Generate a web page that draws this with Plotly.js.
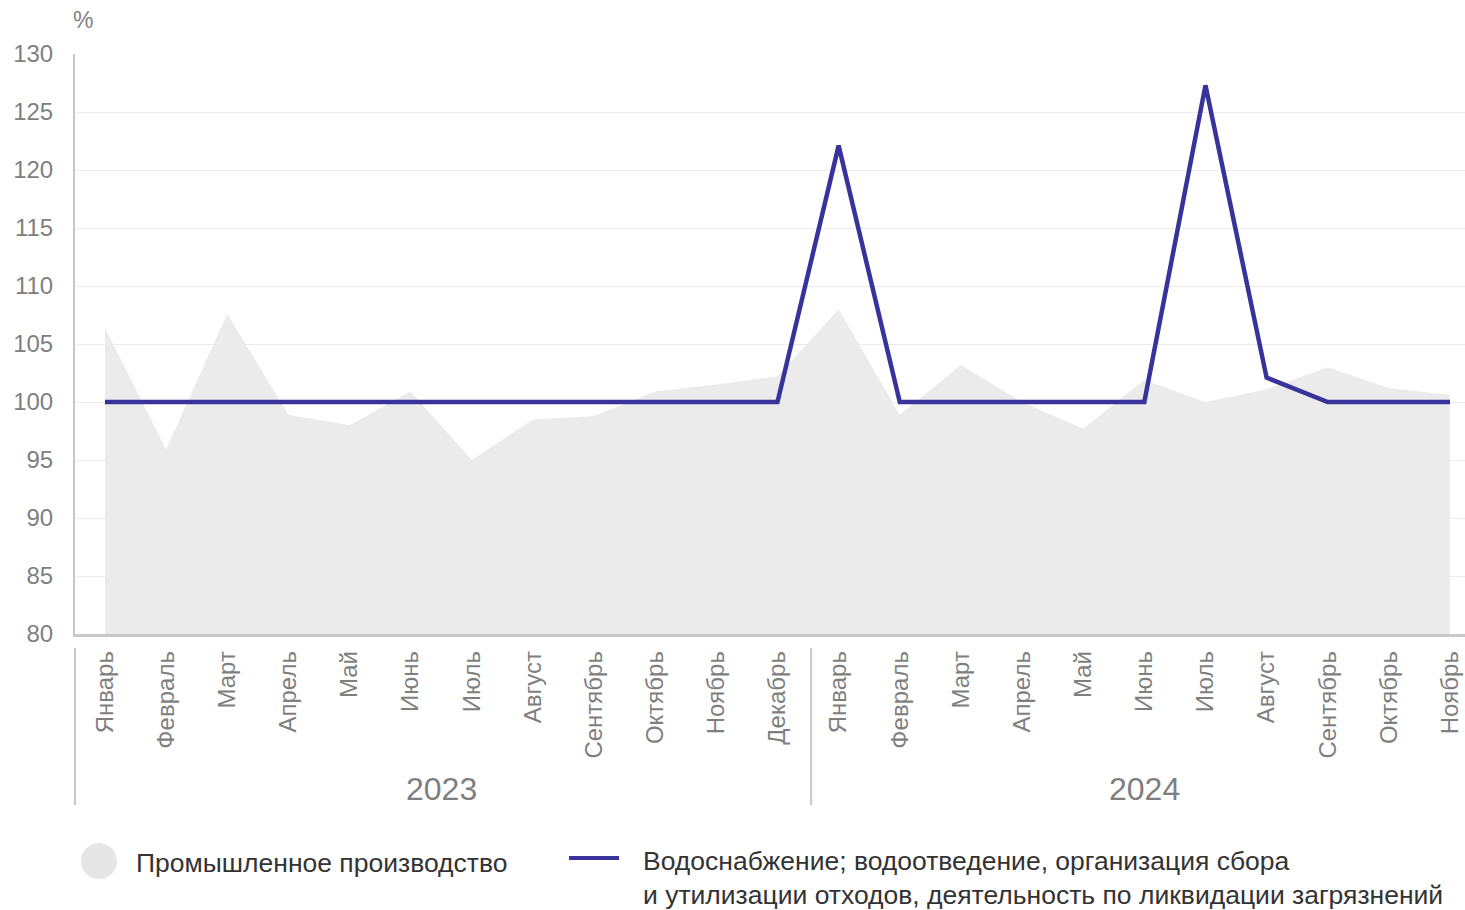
<!DOCTYPE html>
<html>
<head>
<meta charset="utf-8">
<script src="https://cdn.plot.ly/plotly-3.0.1.min.js"></script>
<style>html,body{margin:0;padding:0;background:#fff;}#chart{width:1465px;height:910px;}</style>
</head>
<body>
<div id="chart"></div>
<script>
const months = ["Январь","Февраль","Март","Апрель","Май","Июнь","Июль","Август","Сентябрь","Октябрь","Ноябрь","Декабрь",
                "Январь","Февраль","Март","Апрель","Май","Июнь","Июль","Август","Сентябрь","Октябрь","Ноябрь"];
const years = ["2023","2024"];
const yearOfPoint = [
  "2023","2023","2023","2023","2023","2023","2023","2023","2023","2023","2023","2023",
  "2024","2024","2024","2024","2024","2024","2024","2024","2024","2024","2024"];
const industry = [106.4, 95.9, 107.6, 98.9, 98.0, 100.9, 95.0, 98.5, 98.8, 100.9, 101.5, 102.2,
                  108.0, 98.9, 103.2, 100.0, 97.7, 101.9, 100.0, 101.1, 103.0, 101.2, 100.6];
const water = [100, 100, 100, 100, 100, 100, 100, 100, 100, 100, 100, 100,
               122.1, 100, 100, 100, 100, 100, 127.3, 102.1, 100, 100, 100];
const yTicks = [80, 85, 90, 95, 100, 105, 110, 115, 120, 125, 130];
const legendNames = ["Промышленное производство",
  "Водоснабжение; водоотведение, организация сбора<br>и утилизации отходов, деятельность по ликвидации загрязнений"];

const xIdx = months.map((m, i) => i);
const FONT = "Liberation Sans, Arial, sans-serif";
const GREY = "#7f7f7f";

const yearAnn = years.map(yr => {
  const idx = xIdx.filter(i => yearOfPoint[i] === yr);
  return {
    text: yr, x: (idx[0] + idx[idx.length - 1]) / 2, xref: "x",
    y: -0.268, yref: "paper", showarrow: false, xanchor: "center", yanchor: "middle",
    font: {family: FONT, size: 32, color: GREY}
  };
});
const firstOf2024 = yearOfPoint.indexOf("2024");

const traces = [
  {x: xIdx, y: industry, type: "scatter", mode: "lines", fill: "tozeroy",
   fillcolor: "#ebebeb", line: {width: 0, color: "#ebebeb"}, hoverinfo: "skip", name: legendNames[0]},
  {x: xIdx, y: water, type: "scatter", mode: "lines",
   line: {width: 4.5, color: "#38339a"}, name: legendNames[1]}
];

const layout = {
  width: 1465, height: 910,
  margin: {l: 75, r: 0, t: 54, b: 276},
  paper_bgcolor: "#fff", plot_bgcolor: "#fff",
  showlegend: false,
  font: {family: FONT, color: GREY},
  xaxis: {
    range: [-0.49, 22.245], tickvals: xIdx, ticktext: months, tickangle: -90,
    showgrid: false, zeroline: false, showline: true, linecolor: "#c8c8c8", linewidth: 2.5,
    ticks: "outside", ticklen: 5, tickcolor: "rgba(0,0,0,0)",
    tickfont: {family: FONT, size: 24, color: GREY}
  },
  yaxis: {
    range: [80, 130], tickvals: yTicks, showgrid: true, gridcolor: "#ebebeb", gridwidth: 1,
    zeroline: false, showline: true, linecolor: "#c8c8c8", linewidth: 2,
    ticks: "outside", ticklen: 15, tickcolor: "rgba(0,0,0,0)",
    tickfont: {family: FONT, size: 24, color: GREY}
  },
  shapes: [
    {type: "line", xref: "paper", yref: "paper", x0: 0, x1: 0, y0: -0.024, y1: -0.295,
     line: {color: "#c8c8c8", width: 2}},
    {type: "line", xref: "x", yref: "paper", x0: firstOf2024 - 0.45, x1: firstOf2024 - 0.45, y0: -0.024, y1: -0.295,
     line: {color: "#c8c8c8", width: 2}},
    {type: "circle", xref: "paper", yref: "paper", xsizemode: "pixel", ysizemode: "pixel",
     xanchor: 0.01727, yanchor: -0.3914, x0: -18, x1: 18, y0: -18, y1: 18,
     fillcolor: "#e6e6e6", line: {width: 0}},
    {type: "line", xref: "paper", yref: "paper", x0: 0.3554, x1: 0.3914, y0: -0.3862, y1: -0.3862,
     line: {color: "#38339a", width: 4}}
  ],
  annotations: [
    {text: "%", xref: "paper", yref: "paper", x: -0.003, y: 1.058, xanchor: "left", yanchor: "middle",
     showarrow: false, font: {family: FONT, size: 23, color: GREY}},
    ...yearAnn,
    {text: legendNames[0], xref: "paper", yref: "paper", x: 0.0425, y: -0.3948, xanchor: "left", yanchor: "middle",
     showarrow: false, font: {family: FONT, size: 26.5, color: "#333"}},
    {text: legendNames[1], xref: "paper", yref: "paper", x: 0.4072, y: -0.4205, xanchor: "left", yanchor: "middle",
     align: "left", showarrow: false, font: {family: FONT, size: 26.5, color: "#333"}}
  ]
};

Plotly.newPlot("chart", traces, layout, {displayModeBar: false, staticPlot: true});
</script>
</body>
</html>
